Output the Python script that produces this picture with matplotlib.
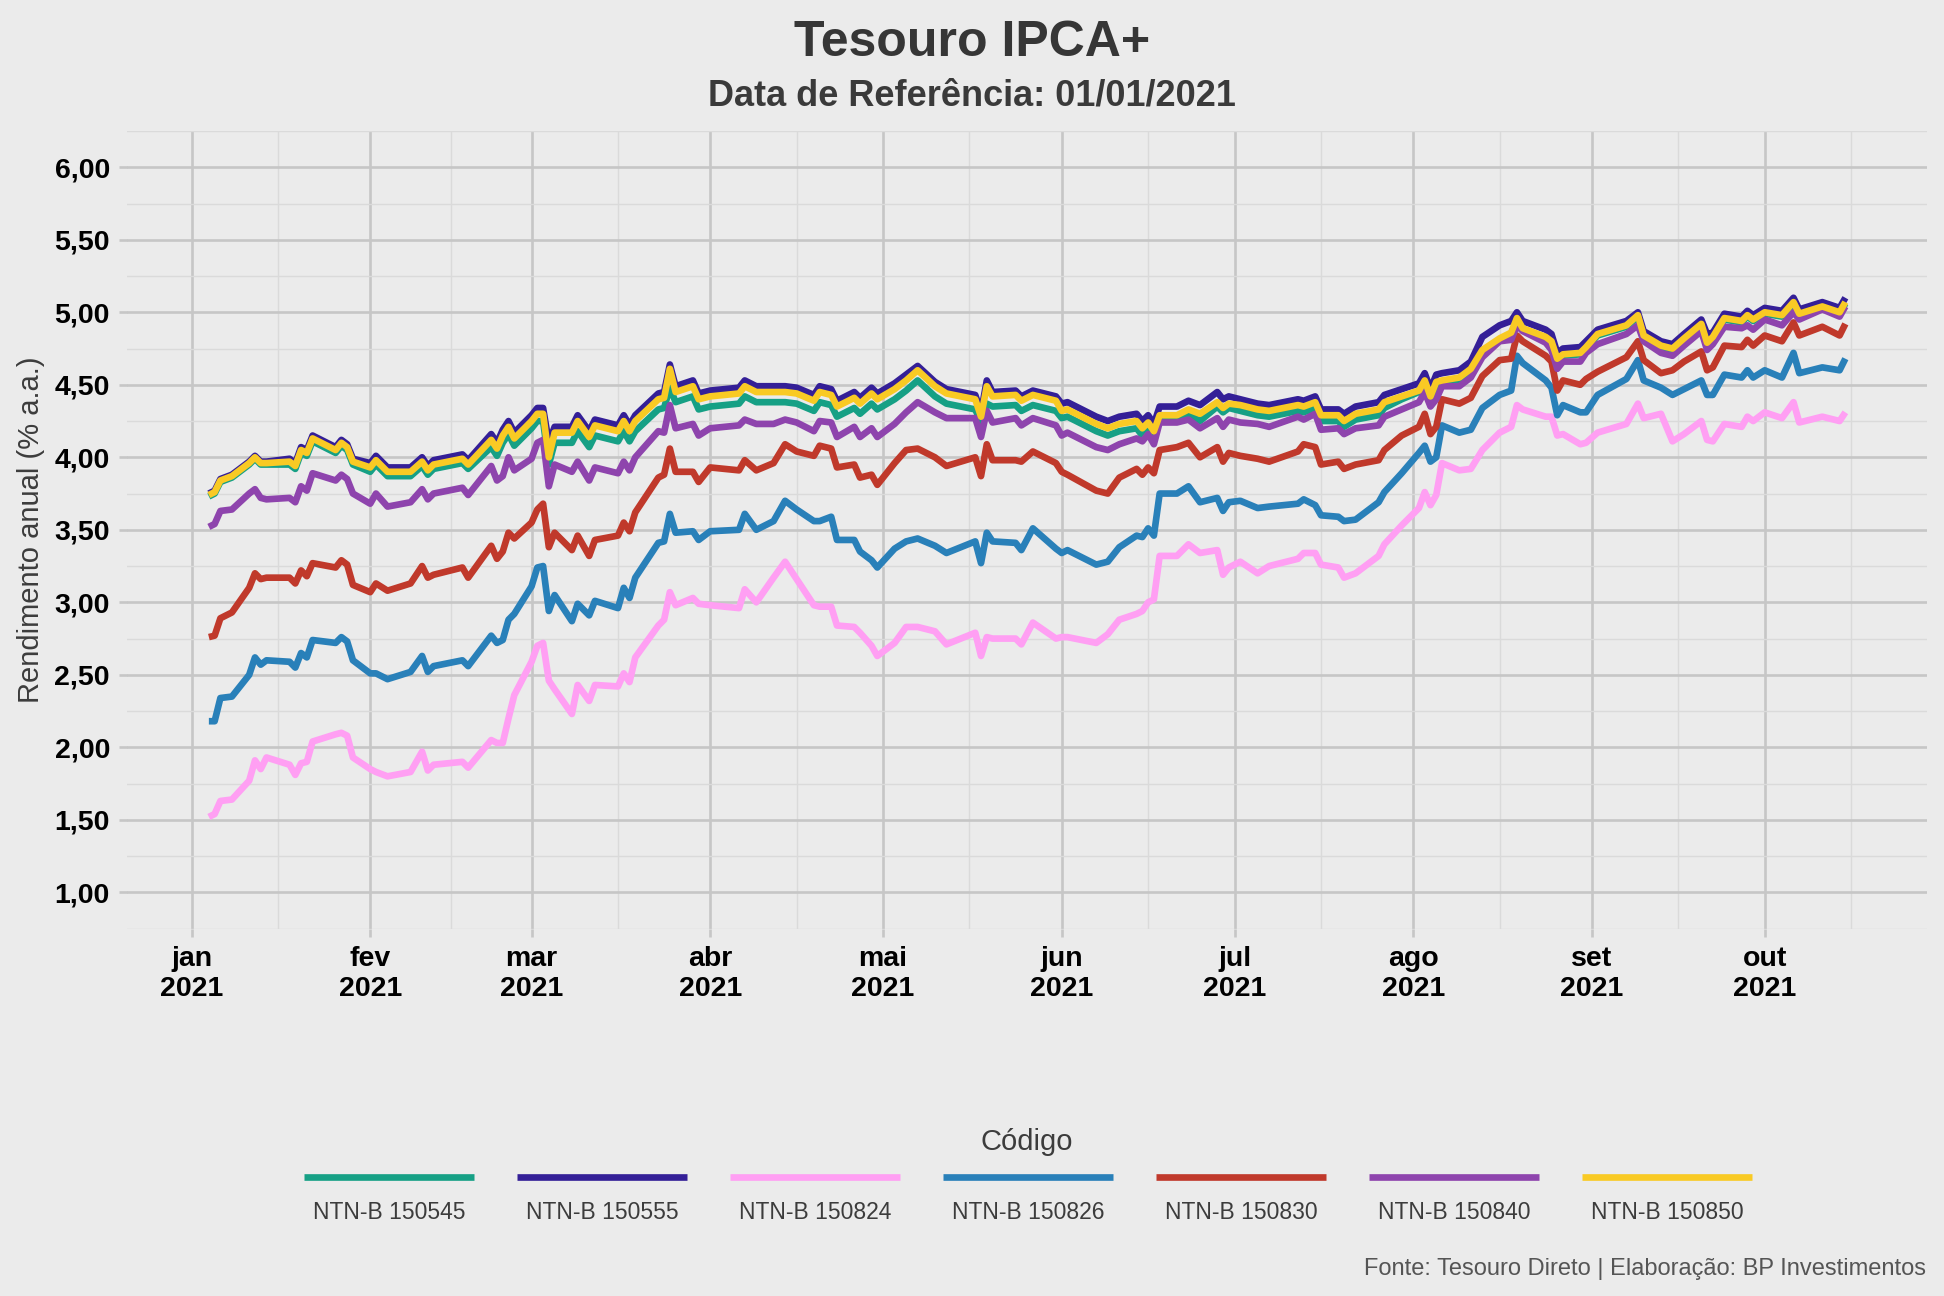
import numpy as np
import matplotlib
matplotlib.use("Agg")
import matplotlib.pyplot as plt
from matplotlib.lines import Line2D

plt.rcParams['font.family'] = ['Liberation Sans', 'DejaVu Sans']

# datas das cotações
datas = [
    # jan
    '2021-01-04', '2021-01-05', '2021-01-06', '2021-01-08', '2021-01-11', '2021-01-12',
    '2021-01-13', '2021-01-14', '2021-01-18', '2021-01-19', '2021-01-20', '2021-01-21',
    '2021-01-22', '2021-01-26', '2021-01-27', '2021-01-28', '2021-01-29',
    # fev
    '2021-02-01', '2021-02-02', '2021-02-04', '2021-02-08', '2021-02-10', '2021-02-11',
    '2021-02-12', '2021-02-17', '2021-02-18', '2021-02-22', '2021-02-23', '2021-02-24',
    '2021-02-25', '2021-02-26',
    # mar
    '2021-03-01', '2021-03-02', '2021-03-03', '2021-03-04', '2021-03-05', '2021-03-08',
    '2021-03-09', '2021-03-11', '2021-03-12', '2021-03-16', '2021-03-17', '2021-03-18',
    '2021-03-19', '2021-03-23', '2021-03-24', '2021-03-25', '2021-03-26', '2021-03-29',
    '2021-03-30',
    # abr
    '2021-04-01', '2021-04-06', '2021-04-07', '2021-04-09', '2021-04-12', '2021-04-14',
    '2021-04-16', '2021-04-19', '2021-04-20', '2021-04-22', '2021-04-23', '2021-04-26',
    '2021-04-27', '2021-04-29', '2021-04-30',
    # mai
    '2021-05-03', '2021-05-05', '2021-05-07', '2021-05-10', '2021-05-12', '2021-05-17',
    '2021-05-18', '2021-05-19', '2021-05-20', '2021-05-24', '2021-05-25', '2021-05-27',
    '2021-05-31',
    # jun
    '2021-06-01', '2021-06-02', '2021-06-07', '2021-06-09', '2021-06-11', '2021-06-14',
    '2021-06-15', '2021-06-16', '2021-06-17', '2021-06-18', '2021-06-21', '2021-06-23',
    '2021-06-25', '2021-06-28', '2021-06-29', '2021-06-30',
    # jul
    '2021-07-02', '2021-07-05', '2021-07-07', '2021-07-12', '2021-07-13', '2021-07-15',
    '2021-07-16', '2021-07-19', '2021-07-20', '2021-07-22', '2021-07-26', '2021-07-27',
    '2021-07-30',
    # ago
    '2021-08-02', '2021-08-03', '2021-08-04', '2021-08-05', '2021-08-06', '2021-08-09',
    '2021-08-11', '2021-08-13', '2021-08-16', '2021-08-18', '2021-08-19', '2021-08-20',
    '2021-08-24', '2021-08-25', '2021-08-26', '2021-08-27', '2021-08-30', '2021-08-31',
    # set
    '2021-09-02', '2021-09-07', '2021-09-09', '2021-09-10', '2021-09-13', '2021-09-15',
    '2021-09-17', '2021-09-20', '2021-09-21', '2021-09-22', '2021-09-24', '2021-09-27',
    '2021-09-28', '2021-09-29',
    # out
    '2021-10-01', '2021-10-04', '2021-10-06', '2021-10-07', '2021-10-11', '2021-10-14',
    '2021-10-15',
]

ntnb_150545 = [
    3.73, 3.75, 3.83, 3.86, 3.95, 3.99, 3.95, 3.95, 3.95, 3.92, 4.03, 4.01, 4.11, 4.03, 4.08, 4.05, 3.95,
    3.90, 3.95, 3.87, 3.87, 3.94, 3.88, 3.92, 3.96, 3.92, 4.07, 4.01, 4.10, 4.16, 4.08,
    4.20, 4.25, 4.25, 3.95, 4.10, 4.10, 4.18, 4.07, 4.15, 4.11, 4.18, 4.11, 4.18, 4.33, 4.34, 4.48, 4.38, 4.42, 4.33,
    4.35, 4.37, 4.42, 4.38, 4.38, 4.38, 4.37, 4.32, 4.38, 4.36, 4.28, 4.34, 4.30, 4.37, 4.33,
    4.40, 4.46, 4.53, 4.42, 4.37, 4.33, 4.24, 4.37, 4.35, 4.36, 4.32, 4.36, 4.32,
    4.27, 4.28, 4.18, 4.15, 4.18, 4.20, 4.15, 4.19, 4.13, 4.26, 4.26, 4.30, 4.25, 4.35, 4.31, 4.34,
    4.32, 4.29, 4.28, 4.32, 4.31, 4.34, 4.25, 4.25, 4.21, 4.26, 4.29, 4.34, 4.40,
    4.45, 4.51, 4.40, 4.50, 4.51, 4.53, 4.59, 4.73, 4.81, 4.85, 4.95, 4.88, 4.82, 4.79, 4.67, 4.70, 4.71, 4.75,
    4.84, 4.90, 4.97, 4.83, 4.76, 4.74, 4.81, 4.91, 4.78, 4.82, 4.95, 4.93, 4.97, 4.94,
    4.99, 4.97, 5.06, 4.98, 5.03, 4.99, 5.06,
]

ntnb_150555 = [
    3.75, 3.77, 3.85, 3.88, 3.97, 4.01, 3.97, 3.97, 3.99, 3.96, 4.07, 4.05, 4.15, 4.07, 4.12, 4.09, 3.99,
    3.96, 4.01, 3.93, 3.93, 4.00, 3.94, 3.98, 4.02, 3.98, 4.16, 4.10, 4.19, 4.25, 4.17,
    4.29, 4.34, 4.34, 4.10, 4.21, 4.21, 4.29, 4.18, 4.26, 4.22, 4.29, 4.22, 4.29, 4.44, 4.45, 4.64, 4.49, 4.53, 4.44,
    4.46, 4.48, 4.53, 4.49, 4.49, 4.49, 4.48, 4.43, 4.49, 4.47, 4.39, 4.45, 4.41, 4.48, 4.44,
    4.51, 4.57, 4.63, 4.52, 4.47, 4.43, 4.31, 4.53, 4.45, 4.46, 4.42, 4.46, 4.42,
    4.37, 4.38, 4.28, 4.25, 4.28, 4.30, 4.25, 4.29, 4.23, 4.35, 4.35, 4.39, 4.36, 4.45, 4.40, 4.42,
    4.40, 4.37, 4.36, 4.40, 4.39, 4.42, 4.33, 4.33, 4.30, 4.35, 4.38, 4.43, 4.47,
    4.51, 4.58, 4.47, 4.57, 4.58, 4.60, 4.66, 4.83, 4.91, 4.94, 5.00, 4.94, 4.88, 4.85, 4.72, 4.75, 4.76, 4.80,
    4.88, 4.94, 5.00, 4.87, 4.80, 4.78, 4.85, 4.95, 4.85, 4.86, 4.99, 4.97, 5.01, 4.98,
    5.03, 5.01, 5.10, 5.02, 5.07, 5.03, 5.10,
]

ntnb_150824 = [
    1.52, 1.54, 1.63, 1.64, 1.77, 1.91, 1.85, 1.93, 1.88, 1.81, 1.89, 1.90, 2.04, 2.09, 2.10, 2.08, 1.93,
    1.85, 1.83, 1.80, 1.83, 1.97, 1.84, 1.88, 1.90, 1.86, 2.05, 2.03, 2.03, 2.20, 2.36,
    2.59, 2.70, 2.72, 2.46, 2.40, 2.23, 2.43, 2.32, 2.43, 2.42, 2.51, 2.45, 2.62, 2.84, 2.88, 3.07, 2.98, 3.03, 2.99,
    2.98, 2.96, 3.09, 3.00, 3.17, 3.28, 3.16, 2.98, 2.97, 2.97, 2.84, 2.83, 2.79, 2.70, 2.63,
    2.72, 2.83, 2.83, 2.80, 2.71, 2.79, 2.63, 2.76, 2.75, 2.75, 2.71, 2.86, 2.75,
    2.76, 2.76, 2.72, 2.78, 2.88, 2.92, 2.94, 3.00, 3.02, 3.32, 3.32, 3.40, 3.34, 3.36, 3.19, 3.24,
    3.28, 3.20, 3.25, 3.30, 3.34, 3.34, 3.26, 3.24, 3.17, 3.20, 3.32, 3.40, 3.53,
    3.65, 3.76, 3.67, 3.74, 3.96, 3.91, 3.92, 4.05, 4.17, 4.21, 4.36, 4.33, 4.28, 4.28, 4.15, 4.16, 4.09, 4.10,
    4.17, 4.23, 4.37, 4.27, 4.30, 4.11, 4.16, 4.25, 4.12, 4.11, 4.23, 4.21, 4.28, 4.25,
    4.31, 4.27, 4.38, 4.24, 4.28, 4.25, 4.31,
]

ntnb_150826 = [
    2.18, 2.18, 2.34, 2.35, 2.50, 2.62, 2.57, 2.60, 2.59, 2.55, 2.65, 2.62, 2.74, 2.72, 2.76, 2.73, 2.60,
    2.51, 2.51, 2.47, 2.52, 2.63, 2.52, 2.56, 2.60, 2.56, 2.77, 2.72, 2.74, 2.88, 2.92,
    3.11, 3.24, 3.25, 2.94, 3.05, 2.87, 2.99, 2.91, 3.01, 2.96, 3.10, 3.03, 3.17, 3.41, 3.42, 3.61, 3.48, 3.49, 3.43,
    3.49, 3.50, 3.61, 3.50, 3.56, 3.70, 3.64, 3.56, 3.56, 3.59, 3.43, 3.43, 3.35, 3.29, 3.24,
    3.37, 3.42, 3.44, 3.39, 3.34, 3.42, 3.27, 3.48, 3.42, 3.41, 3.36, 3.51, 3.37,
    3.34, 3.36, 3.26, 3.28, 3.38, 3.46, 3.45, 3.51, 3.46, 3.75, 3.75, 3.80, 3.69, 3.72, 3.63, 3.69,
    3.70, 3.65, 3.66, 3.68, 3.71, 3.67, 3.60, 3.59, 3.56, 3.57, 3.69, 3.76, 3.89,
    4.03, 4.08, 3.97, 4.00, 4.22, 4.17, 4.19, 4.34, 4.43, 4.46, 4.70, 4.65, 4.53, 4.48, 4.29, 4.36, 4.31, 4.31,
    4.43, 4.54, 4.67, 4.53, 4.48, 4.43, 4.47, 4.53, 4.43, 4.43, 4.57, 4.55, 4.60, 4.55,
    4.60, 4.55, 4.72, 4.58, 4.62, 4.60, 4.68,
]

ntnb_150830 = [
    2.76, 2.77, 2.89, 2.93, 3.10, 3.20, 3.16, 3.17, 3.17, 3.13, 3.22, 3.18, 3.27, 3.24, 3.29, 3.26, 3.12,
    3.07, 3.13, 3.08, 3.13, 3.25, 3.17, 3.19, 3.24, 3.17, 3.39, 3.30, 3.35, 3.48, 3.44,
    3.55, 3.64, 3.68, 3.38, 3.48, 3.36, 3.46, 3.32, 3.43, 3.46, 3.55, 3.49, 3.62, 3.86, 3.88, 4.06, 3.90, 3.90, 3.83,
    3.93, 3.91, 3.98, 3.91, 3.96, 4.09, 4.04, 4.01, 4.08, 4.06, 3.93, 3.95, 3.86, 3.88, 3.81,
    3.96, 4.05, 4.06, 4.00, 3.94, 4.00, 3.87, 4.09, 3.98, 3.98, 3.97, 4.04, 3.96,
    3.90, 3.88, 3.77, 3.75, 3.86, 3.92, 3.88, 3.93, 3.89, 4.05, 4.07, 4.10, 4.00, 4.07, 3.97, 4.03,
    4.01, 3.99, 3.97, 4.04, 4.09, 4.07, 3.95, 3.97, 3.92, 3.95, 3.98, 4.05, 4.15,
    4.21, 4.30, 4.16, 4.21, 4.40, 4.37, 4.41, 4.56, 4.67, 4.68, 4.84, 4.80, 4.70, 4.66, 4.46, 4.53, 4.50, 4.54,
    4.59, 4.69, 4.80, 4.67, 4.58, 4.60, 4.66, 4.73, 4.60, 4.62, 4.77, 4.76, 4.81, 4.77,
    4.84, 4.80, 4.93, 4.84, 4.90, 4.84, 4.92,
]

ntnb_150840 = [
    3.52, 3.54, 3.63, 3.64, 3.75, 3.78, 3.72, 3.71, 3.72, 3.69, 3.80, 3.77, 3.89, 3.84, 3.88, 3.85, 3.75,
    3.68, 3.75, 3.66, 3.69, 3.78, 3.71, 3.75, 3.79, 3.74, 3.94, 3.84, 3.87, 4.00, 3.91,
    3.99, 4.10, 4.12, 3.80, 3.95, 3.90, 3.97, 3.84, 3.93, 3.89, 3.97, 3.91, 4.00, 4.18, 4.17, 4.36, 4.20, 4.23, 4.15,
    4.20, 4.22, 4.26, 4.23, 4.23, 4.26, 4.24, 4.18, 4.25, 4.24, 4.14, 4.21, 4.14, 4.20, 4.14,
    4.23, 4.31, 4.38, 4.31, 4.27, 4.27, 4.14, 4.32, 4.24, 4.27, 4.22, 4.27, 4.22,
    4.15, 4.17, 4.07, 4.05, 4.09, 4.13, 4.11, 4.16, 4.09, 4.24, 4.24, 4.26, 4.20, 4.27, 4.21, 4.26,
    4.24, 4.23, 4.21, 4.28, 4.26, 4.30, 4.19, 4.20, 4.16, 4.20, 4.22, 4.28, 4.33,
    4.38, 4.45, 4.35, 4.40, 4.49, 4.49, 4.55, 4.69, 4.80, 4.81, 4.91, 4.87, 4.79, 4.74, 4.61, 4.66, 4.66, 4.72,
    4.78, 4.85, 4.91, 4.80, 4.72, 4.70, 4.77, 4.87, 4.74, 4.78, 4.90, 4.89, 4.91, 4.88,
    4.95, 4.91, 5.00, 4.95, 5.02, 4.97, 5.04,
]

ntnb_150850 = [
    3.74, 3.76, 3.84, 3.87, 3.96, 4.00, 3.96, 3.96, 3.97, 3.94, 4.05, 4.03, 4.13, 4.05, 4.10, 4.07, 3.97,
    3.93, 3.98, 3.90, 3.90, 3.97, 3.91, 3.95, 3.99, 3.95, 4.12, 4.06, 4.15, 4.21, 4.13,
    4.25, 4.30, 4.30, 4.00, 4.17, 4.17, 4.25, 4.14, 4.22, 4.18, 4.25, 4.18, 4.25, 4.40, 4.41, 4.61, 4.45, 4.49, 4.40,
    4.42, 4.44, 4.49, 4.45, 4.45, 4.45, 4.44, 4.39, 4.45, 4.43, 4.35, 4.41, 4.37, 4.44, 4.40,
    4.47, 4.53, 4.60, 4.49, 4.44, 4.40, 4.28, 4.49, 4.42, 4.43, 4.39, 4.43, 4.39,
    4.32, 4.33, 4.23, 4.20, 4.23, 4.25, 4.20, 4.24, 4.18, 4.29, 4.29, 4.33, 4.30, 4.38, 4.34, 4.37,
    4.36, 4.33, 4.32, 4.36, 4.35, 4.38, 4.29, 4.29, 4.25, 4.30, 4.33, 4.38, 4.42,
    4.46, 4.53, 4.42, 4.52, 4.53, 4.55, 4.61, 4.74, 4.82, 4.86, 4.96, 4.89, 4.83, 4.80, 4.68, 4.71, 4.72, 4.76,
    4.85, 4.91, 4.98, 4.84, 4.77, 4.75, 4.82, 4.92, 4.79, 4.83, 4.96, 4.94, 4.98, 4.95,
    5.00, 4.98, 5.07, 4.99, 5.04, 5.00, 5.07,
]

codigos = ['150545', '150555', '150824', '150826', '150830', '150840', '150850']
series = [ntnb_150545, ntnb_150555, ntnb_150824, ntnb_150826,
          ntnb_150830, ntnb_150840, ntnb_150850]
cores = ['#16a085', '#341f97', '#ff9ff3', '#2980b9', '#c0392b', '#8e44ad', '#f9ca24']
meses = ['jan', 'fev', 'mar', 'abr', 'mai', 'jun', 'jul', 'ago', 'set', 'out']

fundo = '#EBEBEB'
W, H = 1944, 1296

fig = plt.figure(figsize=(W / 100, H / 100), dpi=100, facecolor=fundo)
ax = fig.add_axes([127 / W, 1 - 928.6 / H, 1800 / W, (928.6 - 131) / H])
ax.set_facecolor(fundo)

x = np.array(datas, dtype='datetime64[D]')
for cod, ys, cor in zip(codigos, series, cores):
    ax.plot(x, ys, color=cor, lw=4.8, solid_joinstyle='round', solid_capstyle='butt')

# limites com expansão de 5% (como no ggplot)
x0 = x.min().astype('datetime64[h]').astype(float)
x1 = x.max().astype('datetime64[h]').astype(float)
pad = 0.05 * (x1 - x0)
ax.set_xlim(np.datetime64(int(x0 - pad), 'h'), np.datetime64(int(x1 + pad), 'h'))
ax.set_ylim(0.75, 6.25)

inicio_mes = np.array(['2021-%02d-01' % m for m in range(1, 12)], dtype='datetime64[D]')
ax.set_xticks(inicio_mes[:10])
ax.set_xticklabels([m + '\n2021' for m in meses])
meio = inicio_mes[:-1] + (inicio_mes[1:] - inicio_mes[:-1]) / 2
ax.set_xticks(meio, minor=True)

yt = np.arange(1.0, 6.01, 0.5)
ax.set_yticks(yt)
ax.set_yticklabels([('%.2f' % v).replace('.', ',') for v in yt])
ax.set_yticks(np.arange(0.75, 6.3, 0.5), minor=True)

ax.grid(which='major', color='#C6C6C6', linewidth=1.9)
ax.grid(which='minor', color='#DADADA', linewidth=1.0)
ax.set_axisbelow(True)
for s in ax.spines.values():
    s.set_visible(False)
ax.tick_params(which='major', length=5.8, width=1.9, color='#C6C6C6', pad=6.5,
               labelsize=20.5, labelcolor='black')
ax.tick_params(which='minor', length=0)
for lab in ax.get_xticklabels() + ax.get_yticklabels():
    lab.set_fontweight('bold')

# títulos
fig.text(0.5, 1 - 56 / H, 'Tesouro IPCA+', ha='center', va='baseline',
         fontsize=36, fontweight='bold', color='#363636')
fig.text(0.5, 1 - 106 / H, 'Data de Referência: 01/01/2021', ha='center', va='baseline',
         fontsize=26, fontweight='bold', color='#3a3a3a')
fig.text(31 / W, 1 - (131 + 928.6) / 2 / H, 'Rendimento anual (% a.a.)', rotation=90,
         ha='center', va='center', fontsize=21, color='#3c3c3c')

# legenda (chave acima do rótulo)
fig.text(1027 / W, 1 - 1150 / H, 'Código', ha='center', va='baseline',
         fontsize=21, color='#3c3c3c')
for i, (cod, cor) in enumerate(zip(codigos, cores)):
    xa = 304 + 213 * i
    fig.add_artist(Line2D([xa / W, (xa + 170) / W], [1 - 1177 / H, 1 - 1177 / H],
                          transform=fig.transFigure, color=cor, lw=4.8,
                          solid_capstyle='butt'))
    fig.text((xa + 85) / W, 1 - 1219 / H, 'NTN-B ' + cod, ha='center', va='baseline',
             fontsize=16.5, color='#3c3c3c')

fig.text(1926 / W, 1 - 1275 / H, 'Fonte: Tesouro Direto | Elaboração: BP Investimentos',
         ha='right', va='baseline', fontsize=17, color='#555555')

fig.savefig('out.png', dpi=100, facecolor=fundo)
